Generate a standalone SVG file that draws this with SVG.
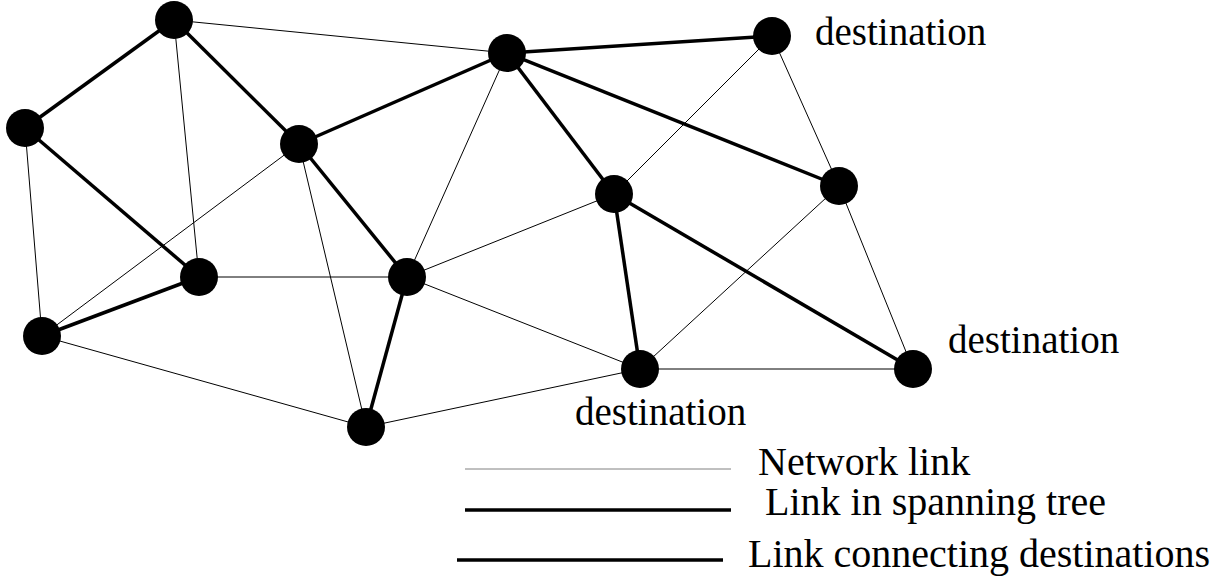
<svg xmlns="http://www.w3.org/2000/svg" width="1228" height="580" viewBox="0 0 1228 580">
<style>
.thin{stroke:#000;stroke-width:1;fill:none}
.thick{stroke:#000;stroke-width:3.5;fill:none}
.node{fill:#000}
.lbl{font-family:"Liberation Serif","Times New Roman",serif;font-size:39px;fill:#000}
.leg{font-family:"Liberation Serif","Times New Roman",serif;font-size:40px;fill:#000}
</style>
<rect width="1228" height="580" fill="#fff"/>
<g id="connectors">
<line class="thin" x1="174" y1="20" x2="507" y2="53"/>
<line class="thin" x1="174" y1="20" x2="199" y2="277"/>
<line class="thin" x1="25" y1="128" x2="42" y2="336"/>
<line class="thin" x1="299" y1="144" x2="42" y2="336"/>
<line class="thin" x1="299" y1="144" x2="366" y2="427"/>
<line class="thin" x1="507" y1="53" x2="407" y2="277"/>
<line class="thin" x1="772" y1="36" x2="614" y2="194"/>
<line class="thin" x1="772" y1="36" x2="839" y2="186"/>
<line class="thin" x1="839" y1="186" x2="640" y2="369"/>
<line class="thin" x1="839" y1="186" x2="913" y2="369"/>
<line class="thin" x1="614" y1="194" x2="407" y2="277"/>
<line class="thin" x1="407" y1="277" x2="640" y2="369"/>
<line class="thin" x1="199" y1="277" x2="407" y2="277"/>
<line class="thin" x1="42" y1="336" x2="366" y2="427"/>
<line class="thin" x1="366" y1="427" x2="640" y2="369"/>
<line class="thin" x1="640" y1="369" x2="913" y2="369"/>
<line class="thick" x1="174" y1="20" x2="25" y2="128"/>
<line class="thick" x1="174" y1="20" x2="299" y2="144"/>
<line class="thick" x1="25" y1="128" x2="199" y2="277"/>
<line class="thick" x1="299" y1="144" x2="507" y2="53"/>
<line class="thick" x1="299" y1="144" x2="407" y2="277"/>
<line class="thick" x1="507" y1="53" x2="772" y2="36"/>
<line class="thick" x1="507" y1="53" x2="614" y2="194"/>
<line class="thick" x1="507" y1="53" x2="839" y2="186"/>
<line class="thick" x1="199" y1="277" x2="42" y2="336"/>
<line class="thick" x1="407" y1="277" x2="366" y2="427"/>
<line class="thick" x1="614" y1="194" x2="640" y2="369"/>
<line class="thick" x1="614" y1="194" x2="913" y2="369"/>
</g>
<g id="nA"><circle class="node" cx="174" cy="20" r="19"/></g>
<g id="nB"><circle class="node" cx="25" cy="128" r="19"/></g>
<g id="nC"><circle class="node" cx="299" cy="144" r="19"/></g>
<g id="nD"><circle class="node" cx="507" cy="53" r="19"/></g>
<g id="nE"><circle class="node" cx="772" cy="36" r="19"/></g>
<g id="nF"><circle class="node" cx="839" cy="186" r="19"/></g>
<g id="nG"><circle class="node" cx="614" cy="194" r="19"/></g>
<g id="nH"><circle class="node" cx="199" cy="277" r="19"/></g>
<g id="nI"><circle class="node" cx="42" cy="336" r="19"/></g>
<g id="nJ"><circle class="node" cx="407" cy="277" r="19"/></g>
<g id="nK"><circle class="node" cx="366" cy="427" r="19"/></g>
<g id="nL"><circle class="node" cx="640" cy="369" r="19"/></g>
<g id="nM"><circle class="node" cx="913" cy="369" r="19"/></g>
<g id="labels">
<text class="lbl" x="815" y="45">destination</text>
<text class="lbl" x="948" y="353">destination</text>
<text class="lbl" x="575" y="425">destination</text>
</g>
<g id="legend">
<line x1="465" y1="469" x2="731" y2="469" stroke="#808080" stroke-width="1"/>
<line x1="465" y1="510" x2="731" y2="510" stroke="#000" stroke-width="3.5"/>
<line x1="457" y1="560" x2="723" y2="560" stroke="#000" stroke-width="3.5"/>
<text class="leg" x="758" y="475">Network link</text>
<text class="leg" x="765" y="515">Link in spanning tree</text>
<text class="leg" x="748" y="567">Link connecting destinations</text>
</g>
</svg>
